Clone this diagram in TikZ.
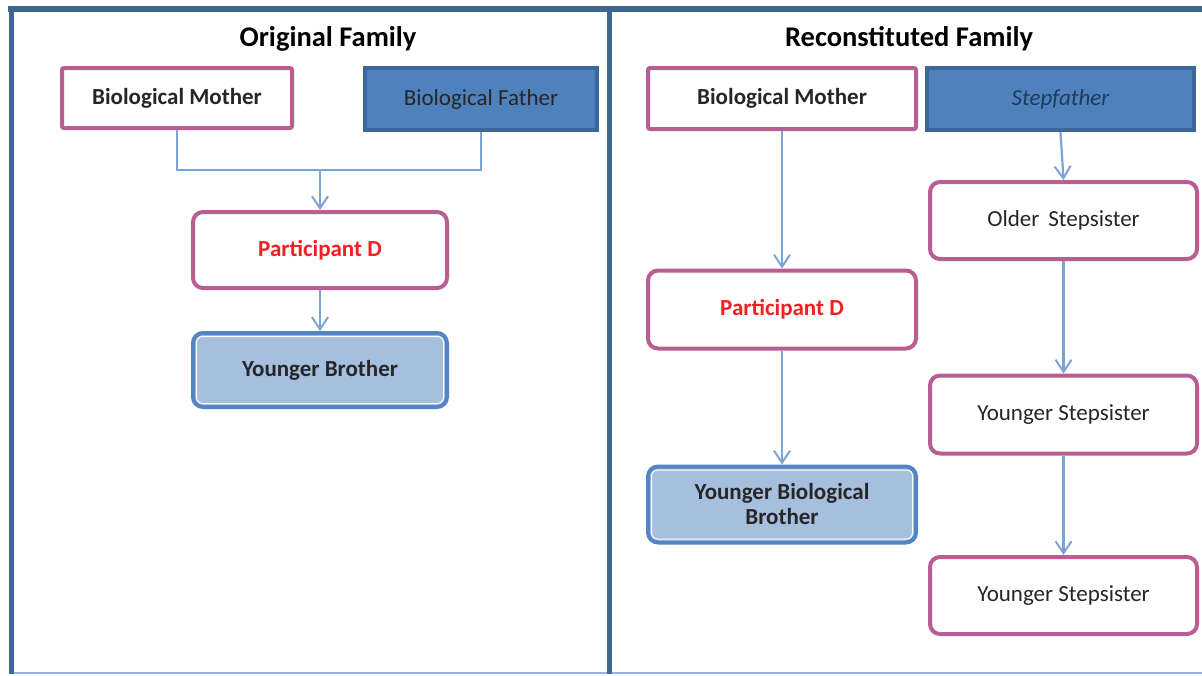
\documentclass[tikz,border=0pt]{standalone}
\usepackage{fontspec}
\setmainfont{Carlito}
\usetikzlibrary{arrows.meta,calc}
\definecolor{pinkb}{HTML}{B95E92}
\definecolor{bluef}{HTML}{4F81BD}
\definecolor{blueb}{HTML}{3C679A}
\definecolor{lbluef}{HTML}{A7BFDE}
\definecolor{lblueb}{HTML}{5384C4}
\definecolor{conn}{HTML}{7CA3D6}
\definecolor{frame}{HTML}{3F6592}
\definecolor{framel}{HTML}{95B3D7}
\definecolor{redt}{HTML}{F41E23}
\definecolor{txt}{HTML}{262626}
\definecolor{steptxt}{HTML}{1F3A5F}
\tikzset{
  box/.style={draw, line width=4pt, inner sep=0pt, align=center, font=\fontsize{23}{25}\selectfont, text=txt},
  boldtext/.style={font=\fontsize{23}{25}\selectfont\bfseries},
  pinkbox/.style={box, draw=pinkb, fill=white},
  pinkround/.style={pinkbox, rounded corners=10pt},
  bluebox/.style={box, draw=blueb, fill=bluef},
  lbluebox/.style={box, draw=lblueb, fill=lbluef, rounded corners=10pt,
    path picture={\draw[white, line width=1pt, rounded corners=6pt]
      ([shift={(3.5pt,-3.5pt)}]path picture bounding box.north west) rectangle
      ([shift={(-3.5pt,3.5pt)}]path picture bounding box.south east);}},
  conline/.style={draw=conn, line width=2.2pt},
  conarrow/.style={conline, -{Straight Barb[length=12pt,width=16pt,line width=2pt]}},
  title/.style={font=\fontsize{28.5}{32}\selectfont\bfseries, text=black, inner sep=0pt}
}
\begin{document}
\begin{tikzpicture}[x=1pt,y=-1pt]
\useasboundingbox (0,0) rectangle (1202,675);
\fill[white] (0,0) rectangle (1202,675);
% frame
\draw[framel, line width=2pt] (9,673) -- (1202,673);
\draw[frame, line width=6pt] (8,9) -- (1202,9);
\draw[frame, line width=5pt] (11,6) -- (11,674);
\draw[frame, line width=5pt] (609,6) -- (609,674);
% titles
\node[title] (t1) at (328,39) {Original Family};
\node[title] (t2) at (909,39) {Reconstituted Family};
% left panel
\node[pinkbox, boldtext, minimum width=230pt, minimum height=60pt, rounded corners=2pt] (lmom) at (177,98) {Biological Mother};
\node[bluebox, minimum width=232pt, minimum height=62pt] (lfat) at (481,99) {Biological Father};
\node[pinkround, boldtext, minimum width=254pt, minimum height=76pt, text=redt] (lpd) at (320,250) {Participant D};
\node[lbluebox, boldtext, minimum width=254pt, minimum height=74pt] (lyb) at (320,370) {Younger Brother};
\coordinate (j) at (320,170);
\draw[conline] (lmom.south) |- (j) -| (lfat.south);
\draw[conarrow] (j) -- (lpd.north);
\draw[conarrow] (lpd.south) -- (lyb.north);
% right panel
\node[pinkbox, boldtext, minimum width=268pt, minimum height=61pt, rounded corners=2pt] (rmom) at (782,98.5) {Biological Mother};
\node[bluebox, minimum width=267pt, minimum height=62pt, text=steptxt, font=\fontsize{23}{25}\selectfont\itshape] (rstep) at (1060.5,99) {Stepfather};
\node[pinkround, boldtext, minimum width=268pt, minimum height=78pt, text=redt] (rpd) at (782,309.5) {Participant D};
\node[lbluebox, boldtext, minimum width=268pt, minimum height=76pt] (rybb) at (782,504.5) {Younger Biological\\Brother};
\node[pinkround, minimum width=267pt, minimum height=77pt] (ros) at (1063.5,220.5) {Older\, Stepsister};
\node[pinkround, minimum width=267pt, minimum height=78pt] (rys1) at (1063.5,414.5) {Younger Stepsister};
\node[pinkround, minimum width=267pt, minimum height=77pt] (rys2) at (1063.5,595.5) {Younger Stepsister};
\draw[conarrow] (rmom.south) -- (rpd.north);
\draw[conarrow] (rpd.south) -- (rybb.north);
\draw[conarrow] (rstep.south) -- (ros.north);
\draw[conarrow] (ros.south) -- (rys1.north);
\draw[conarrow] (rys1.south) -- (rys2.north);
\end{tikzpicture}
\end{document}
